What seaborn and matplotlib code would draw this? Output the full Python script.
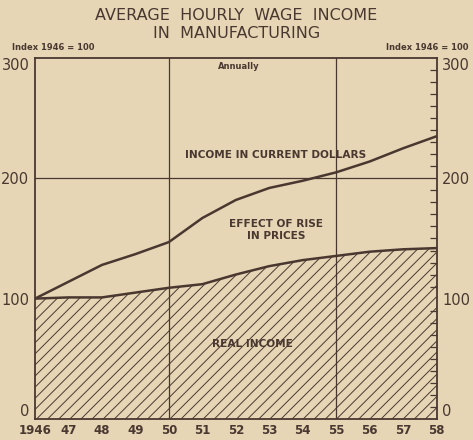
import numpy as np
import pandas as pd
import matplotlib
matplotlib.use("Agg")
import matplotlib.pyplot as plt
from matplotlib.ticker import MultipleLocator
import seaborn as sns

years = list(range(1946, 1959))
year_labels = ["1946", "47", "48", "49", "50", "51", "52", "53", "54", "55", "56", "57", "58"]
current_dollars = [100, 114, 128, 137, 147, 167, 182, 192, 198, 205, 214, 225, 235]
real_income = [100, 101, 101, 105, 109, 112, 120, 127, 132, 135.5, 139, 141, 142]
y_ticks = [0, 100, 200, 300]

PAPER = "#e6d6b6"
INK = "#4a3830"

sns.set_style("white")
plt.rcParams["font.family"] = ["DejaVu Sans"]
plt.rcParams["hatch.color"] = INK
plt.rcParams["hatch.linewidth"] = 0.7

df = pd.DataFrame({"year": years, "current": current_dollars, "real": real_income})

fig = plt.figure(figsize=(4.73, 4.40), dpi=100, facecolor=PAPER)
ax = fig.add_axes([0.074, 0.048, 0.849, 0.820])
ax.set_facecolor(PAPER)

# hatched area under real income
ax.fill_between(df["year"], 0, df["real"], facecolor="none", edgecolor=INK,
                hatch="///", linewidth=0)

sns.lineplot(data=df, x="year", y="current", color=INK, linewidth=1.8, ax=ax)
sns.lineplot(data=df, x="year", y="real", color=INK, linewidth=1.8, ax=ax)

# reference lines
for yr in (1950, 1955):
    ax.axvline(yr, color=INK, linewidth=0.9)
ax.axhline(200, color=INK, linewidth=0.9)

ax.set_xlim(1946, 1958)
ax.set_ylim(0, 300)
ax.set_xlabel("")
ax.set_ylabel("")

for side in ["top", "bottom", "left", "right"]:
    ax.spines[side].set_color(INK)
    ax.spines[side].set_linewidth(1.3)

ax.set_xticks(years)
ax.set_xticklabels(year_labels, fontsize=8.5, fontweight="bold", color=INK)
ax.tick_params(axis="x", direction="in", length=6, width=0.9, color=INK, pad=4)
ax.set_yticks(y_ticks)
ax.set_yticklabels([str(v) for v in y_ticks], fontsize=10.5, color=INK)
ax.tick_params(axis="y", length=0, pad=4)

# right axis with minor ticks every 10
ax2 = ax.twinx()
ax2.set_ylim(0, 300)
ax2.set_yticks(y_ticks)
ax2.set_yticklabels([str(v) for v in y_ticks], fontsize=10.5, color=INK)
ax2.yaxis.set_minor_locator(MultipleLocator(10))
ax2.tick_params(axis="y", which="major", direction="in", length=0, pad=4)
ax2.tick_params(axis="y", which="minor", direction="in", length=5, width=0.9, color=INK)
for side in ["top", "bottom", "left", "right"]:
    ax2.spines[side].set_visible(False)

# lift the 0 labels off the corner, drop the 300 labels below the top edge
for a in (ax, ax2):
    labels = a.get_yticklabels()
    labels[0].set_va("bottom")
    labels[-1].set_va("top")

# labels inside the plot
ax.text(1953.2, 219, "INCOME IN CURRENT DOLLARS", ha="center", va="center",
        fontsize=7.6, fontweight="bold", color=INK)
ax.text(1953.2, 157, "EFFECT OF RISE\nIN PRICES", ha="center", va="center",
        fontsize=7.6, fontweight="bold", color=INK, linespacing=1.3)
ax.text(1952.5, 62, "REAL INCOME", ha="center", va="center",
        fontsize=7.6, fontweight="bold", color=INK)
ax.text(1952.1, 293, "Annually", ha="center", va="center",
        fontsize=6, fontweight="bold", color=INK)

# title and index notes
fig.text(0.5, 0.965, "AVERAGE  HOURLY  WAGE  INCOME", ha="center", va="center",
         fontsize=11.5, color=INK)
fig.text(0.5, 0.923, "IN  MANUFACTURING", ha="center", va="center",
         fontsize=11.5, color=INK)
fig.text(0.025, 0.893, "Index 1946 = 100", ha="left", va="center",
         fontsize=6, fontweight="bold", color=INK)
fig.text(0.99, 0.893, "Index 1946 = 100", ha="right", va="center",
         fontsize=6, fontweight="bold", color=INK)

fig.savefig("out.png", dpi=100, facecolor=PAPER)
